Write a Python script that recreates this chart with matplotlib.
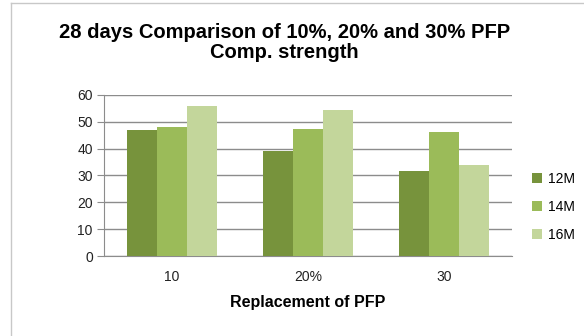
import numpy as np
import matplotlib.pyplot as plt
from matplotlib.patches import Patch

plt.rcParams['font.family'] = ['Liberation Sans', 'DejaVu Sans']

categorias = ['10', '20%', '30']
series = ['12M', '14M', '16M']
m12 = [46.8, 39.1, 31.7]
m14 = [48.1, 47.3, 46.1]
m16 = [56.0, 54.5, 33.7]
cores = ['#77933C', '#9BBB59', '#C3D69B']

fig = plt.figure(figsize=(5.84, 3.36), dpi=100)
ax = fig.add_axes([0.178, 0.238, 0.699, 0.480])

x = np.arange(len(categorias))
largura = 0.22
for i, (valores, cor) in enumerate(zip([m12, m14, m16], cores)):
    ax.bar(x + (i - 1) * largura, valores, width=largura, color=cor, zorder=3)

ax.set_xlim(-0.5, 2.5)
ax.set_ylim(0, 60)
ax.set_yticks(range(0, 61, 10))
ax.set_xticks(x)
ax.set_xticklabels(categorias)
ax.grid(axis='y', color='#8c8c8c', linewidth=1.0, zorder=0)

for lado in ['top', 'right']:
    ax.spines[lado].set_visible(False)
ax.spines['left'].set_color('#8c8c8c')
ax.spines['bottom'].set_color('#8c8c8c')
ax.tick_params(axis='y', length=5, color='#8c8c8c', labelsize=10, pad=3, labelcolor='#222222')
ax.tick_params(axis='x', length=0, labelsize=10, pad=10, labelcolor='#222222')

ax.set_xlabel('Replacement of PFP', fontsize=11.5, fontweight='bold', labelpad=8)
fig.text(0.487, 0.873, '28 days Comparison of 10%, 20% and 30% PFP\nComp. strength',
         ha='center', va='center', fontsize=14.5, fontweight='bold', linespacing=1.05)

handles = [Patch(facecolor=c, edgecolor='none') for c in cores]
fig.legend(handles, series, loc='center left', bbox_to_anchor=(0.89, 0.385),
           frameon=False, fontsize=10, handlelength=0.7, handleheight=0.7,
           handletextpad=0.4, labelspacing=1.0)

# borda do gráfico
fig.add_artist(plt.Line2D([0.019, 0.019], [0, 0.99], color='#c8c8c8', lw=1))
fig.add_artist(plt.Line2D([0.019, 1], [0.99, 0.99], color='#c8c8c8', lw=1))

fig.savefig('out.png', dpi=100)
